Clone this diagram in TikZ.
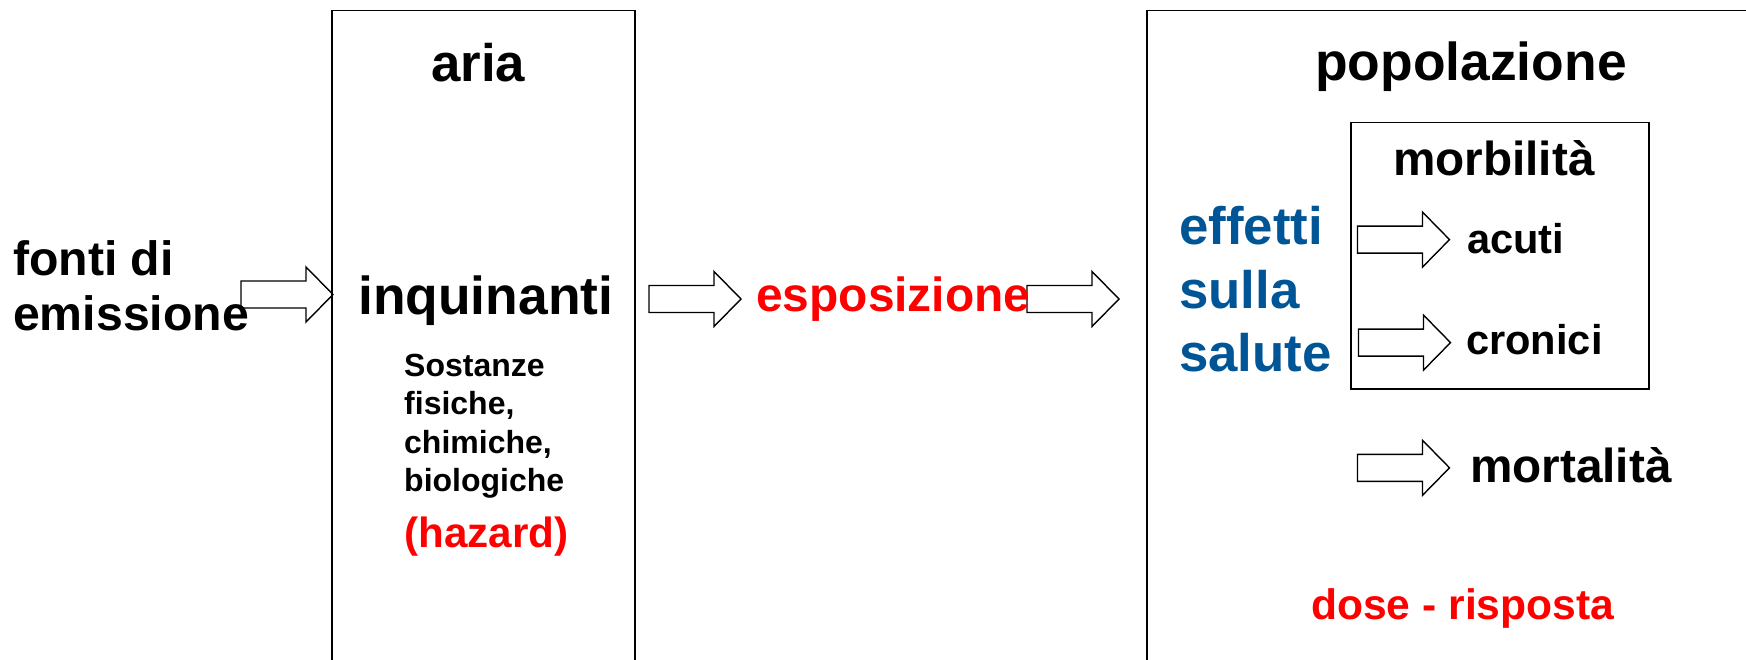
\documentclass[tikz,border=0pt]{standalone}
\usepackage{fontspec}
\setmainfont{Liberation Sans}
\definecolor{effblue}{RGB}{0,85,150}
\definecolor{purered}{RGB}{255,0,0}
\tikzset{
  boxline/.style={draw=black, line width=1.4pt},
  arrowline/.style={draw=black, line width=1.4pt, line join=miter},
  blockarrow/.pic={\draw[arrowline] (0,-13.5) -- (65,-13.5) -- (65,-27.5) -- (92,0) -- (65,27.5) -- (65,13.5) -- (0,13.5) -- cycle;},
  txt/.style={inner sep=0pt, anchor=base west, font=\bfseries},
}
\newcommand{\fs}[1]{\fontsize{#1}{#1}\selectfont}
\begin{document}
\begin{tikzpicture}[x=1pt, y=-1pt]
\useasboundingbox (0,0) rectangle (1746,659);
\clip (0,0) rectangle (1746,659);
% boxes
\draw[boxline] (332,680) -- (332,10.5) -- (635,10.5) -- (635,680);
\draw[boxline] (1147,680) -- (1147,10.5) -- (1770,10.5);
\draw[boxline] (1351,122.5) rectangle (1649,389);
% block arrows
\pic at (241,294.5) {blockarrow};
\pic at (649,299) {blockarrow};
\pic at (1027,299) {blockarrow};
\pic at (1357.5,239.6) {blockarrow};
\pic at (1358.5,342.6) {blockarrow};
\pic at (1357.5,467.8) {blockarrow};
% texts
\node[txt] (fonti1) at (13,275) {\fs{48.2}fonti di};
\node[txt] (fonti2) at (13,330) {\fs{48.2}emissione};
\node[txt] (aria) at (431,81) {\fs{52.8}aria};
\node[txt] (inq) at (358,314) {\fs{53.4}inquinanti};
\node[txt] (sos1) at (404,376) {\fs{32}Sostanze};
\node[txt] (sos2) at (404,414) {\fs{32}fisiche,};
\node[txt] (sos3) at (404,453) {\fs{32}chimiche,};
\node[txt] (sos4) at (404,491) {\fs{32}biologiche};
\node[txt, text=purered] (haz) at (404,547) {\fs{42.2}(hazard)};
\node[txt, text=purered] (esp) at (756,311) {\fs{47.9}esposizione};
\node[txt] (pop) at (1315,80) {\fs{53.4}popolazione};
\node[txt] (morb) at (1393,175) {\fs{47.7}morbilità};
\node[txt, text=effblue] (eff1) at (1179,244) {\fs{52.8}effetti};
\node[txt, text=effblue] (eff2) at (1179,308) {\fs{52.8}sulla};
\node[txt, text=effblue] (eff3) at (1179,371) {\fs{52.8}salute};
\node[txt] (acuti) at (1467,253) {\fs{41.6}acuti};
\node[txt] (cron) at (1466,354) {\fs{41.6}cronici};
\node[txt] (mort) at (1470,482) {\fs{47.7}mortalità};
\node[txt, text=purered] (dose) at (1311,619) {\fs{42.6}dose - risposta};
\end{tikzpicture}
\end{document}
